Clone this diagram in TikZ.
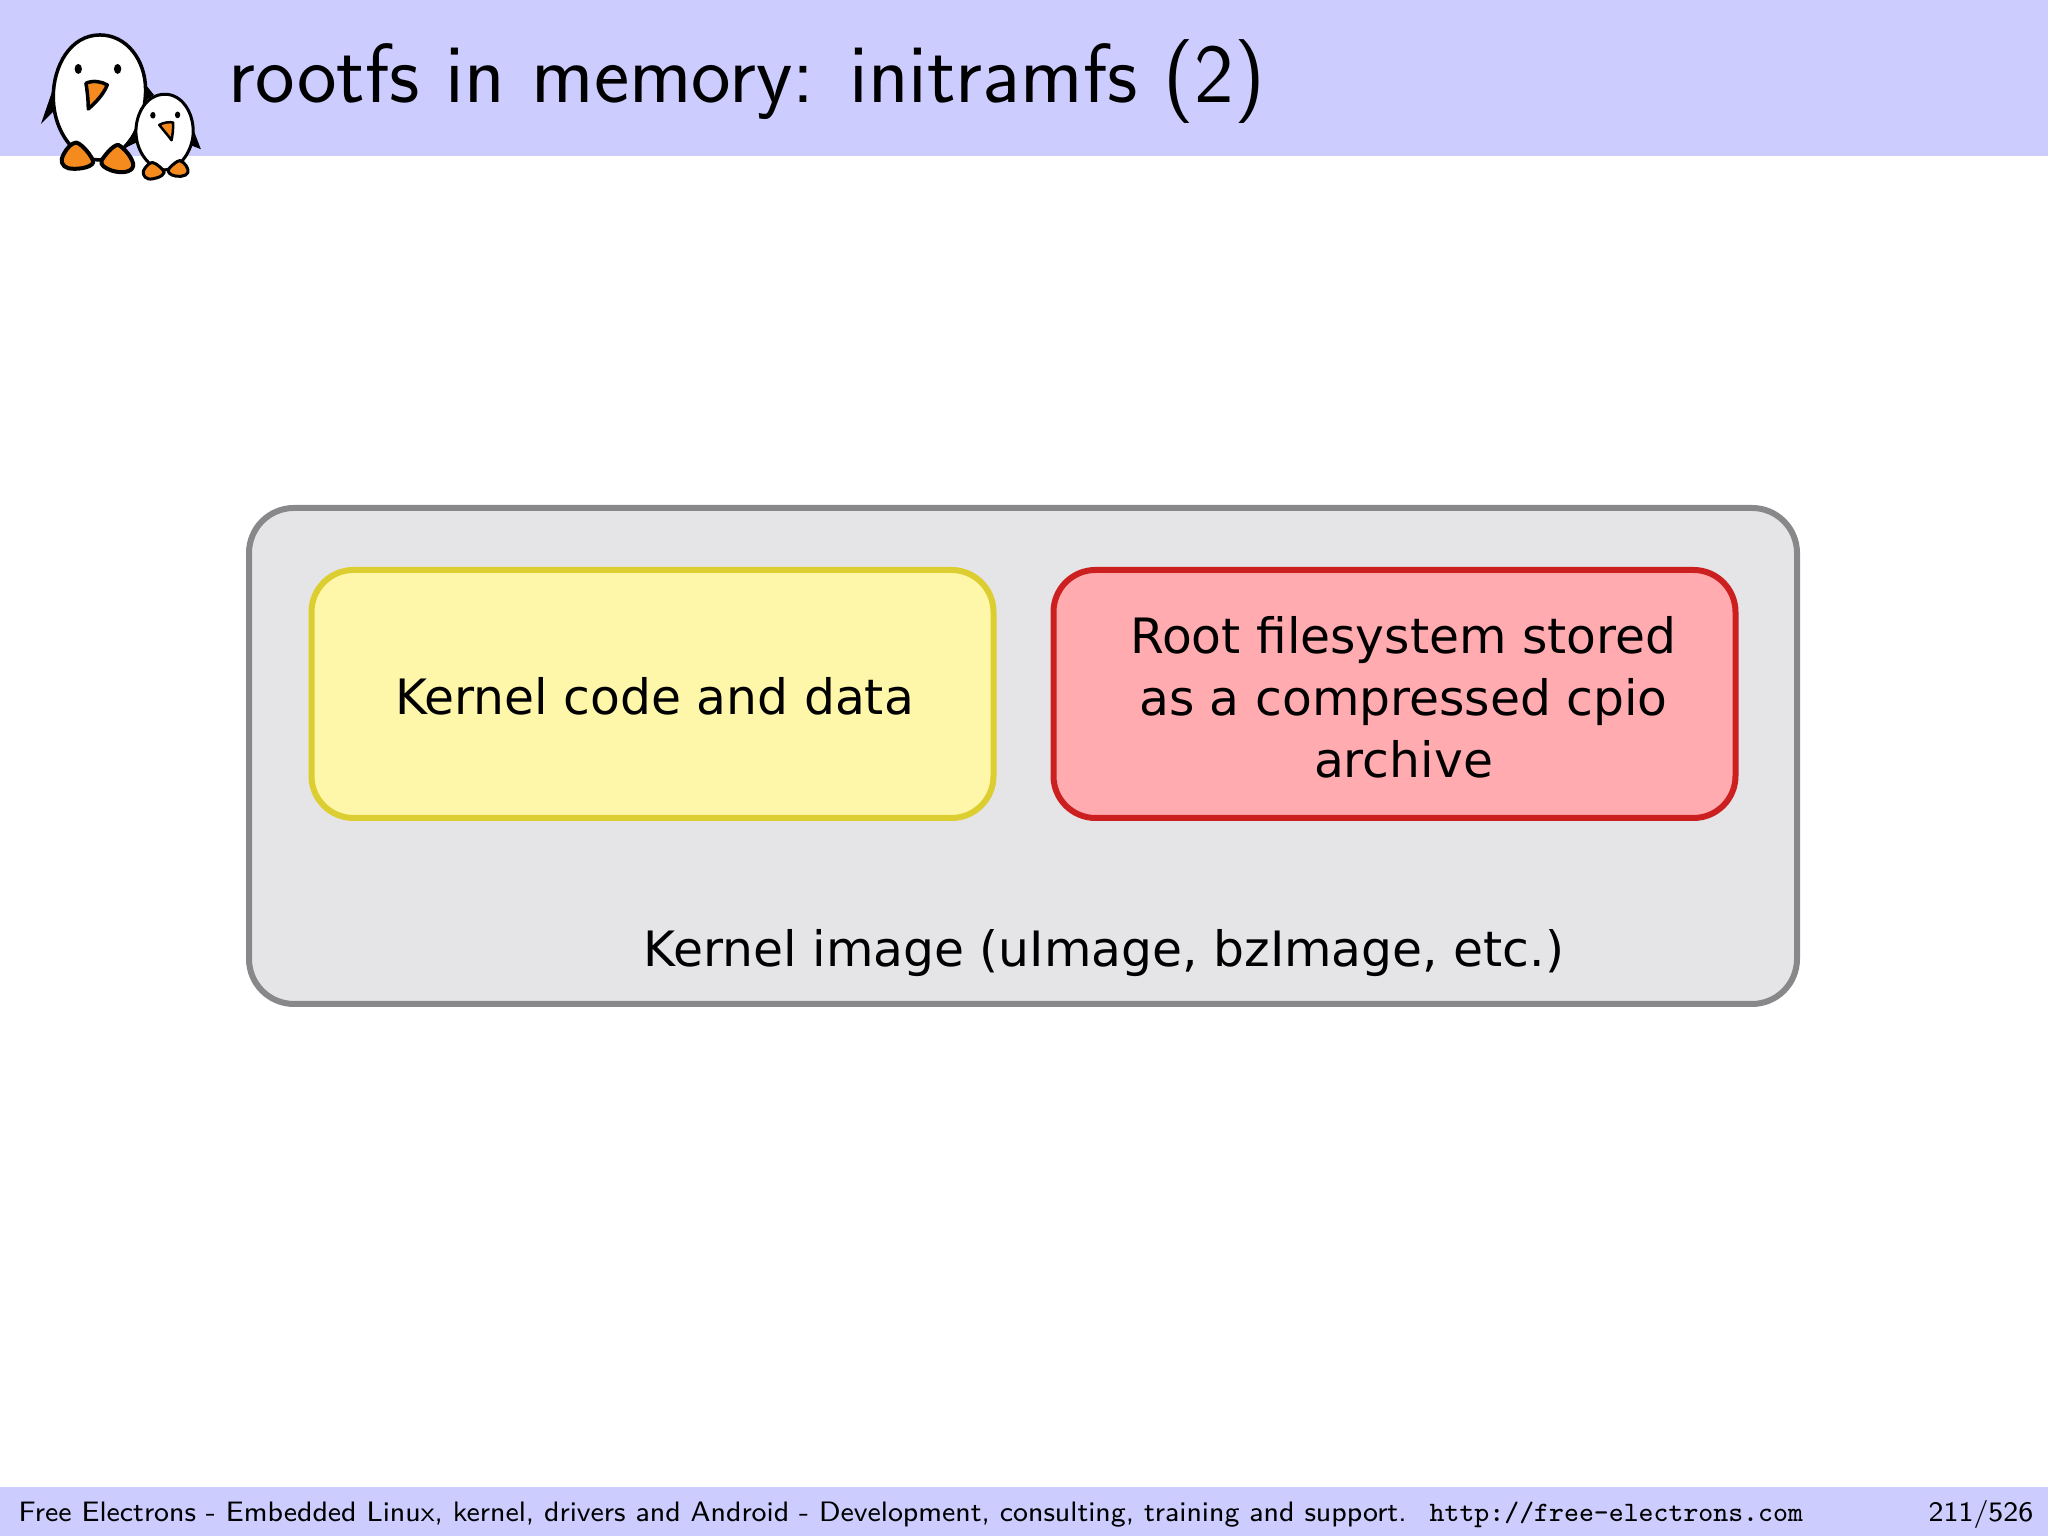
\documentclass[tikz,border=0pt]{standalone}
\usepackage{fontspec}
\newfontfamily\boxfont{DejaVu Sans}
\definecolor{barblue}{HTML}{CCCCFF}
\definecolor{imagefill}{HTML}{E5E4E6}
\definecolor{imageline}{HTML}{888789}
\definecolor{kernelfill}{HTML}{FEF6A8}
\definecolor{kernelline}{HTML}{DCCD30}
\definecolor{rootfill}{HTML}{FFABB0}
\definecolor{rootline}{HTML}{CC2020}
\definecolor{beakorange}{HTML}{F58A1F}
\tikzset{
	box/.style={draw, rounded corners=0.42cm, line width=0.06cm, minimum height=2.48cm, minimum width=6.82cm, inner sep=0pt},
	boxtext/.style={inner sep=0pt, align=center, font=\boxfont\fontsize{13.87}{17.6}\selectfont},
	bartext/.style={inner sep=0pt, anchor=base west, font=\sffamily\fontsize{8}{9}\selectfont},
	peng/.style={draw=black, line width=0.035cm, line join=round},
}
\begin{document}
\begin{tikzpicture}
	\useasboundingbox (0, 0) rectangle (20.48, 15.36);
	%%%%% BARS %%%%%
	\fill[barblue] (0, 13.8) rectangle (20.48, 15.36);
	\fill[barblue] (0, 0) rectangle (20.48, 0.49);
	\node[inner sep=0pt, anchor=base west, font=\sffamily\fontsize{23.9}{28}\selectfont] (title) at (2.28, 14.33) {rootfs in memory: initramfs (2)};
	\node[bartext] (footer) at (0.18, 0.14) {Free Electrons - Embedded Linux, kernel, drivers and Android - Development, consulting, training and support.};
	\node[bartext, font=\ttfamily\fontsize{8}{9}\selectfont] (url) at (14.29, 0.14) {http://free-electrons.com};
	\node[bartext] (page) at (19.28, 0.14) {211/526};

	%%%%% BOXES %%%%%
	\node[box, draw=imageline, fill=imagefill, minimum width=15.48cm, minimum height=4.96cm, rounded corners=0.45cm] (image) at (10.23, 7.8) {};
	\node[box, draw=kernelline, fill=kernelfill] (kernel) at (6.525, 8.42) {};
	\node[box, draw=rootline, fill=rootfill] (rootfs) at (13.945, 8.42) {};
	\node[boxtext] (kerneltext) at (6.545, 8.40) {Kernel code and data};
	\node[boxtext] (roottext) at (14.035, 8.385) {Root filesystem stored\\as a compressed cpio\\archive};
	\node[boxtext] (imagetext) at (11.04, 5.83) {Kernel image (uImage, bzImage, etc.)};

	%%%%% PENGUINS %%%%%
	\begin{scope}[shift={(0, 15.36)}, x=0.01cm/3, y=-0.01cm/3]
		% big one
		\fill[black] (165,250) -- (123,372) -- (170,325) -- cycle;
		\fill[black] (430,245) -- (462,285) -- (425,310) -- cycle;
		\draw[peng, fill=white] (300,105) .. controls (210,105) and (160,200) .. (160,290) .. controls (160,400) and (230,480) .. (295,480) .. controls (370,480) and (437,380) .. (437,270) .. controls (437,180) and (380,105) .. (300,105) -- cycle;
		\fill (235,207) ellipse (11 and 15);
		\fill (353,207) ellipse (11 and 15);
		\draw[peng, fill=beakorange] (258,250) .. controls (280,240) and (305,245) .. (322,255) .. controls (310,285) and (285,310) .. (265,327) .. controls (265,300) and (262,275) .. (258,250) -- cycle;
		\draw[peng, line width=0.04cm, fill=beakorange] (230,428) .. controls (250,435) and (280,475) .. (280,487) .. controls (275,505) and (225,510) .. (205,505) .. controls (185,500) and (180,480) .. (190,465) .. controls (200,445) and (215,428) .. (230,428) -- cycle;
		\draw[peng, line width=0.04cm, fill=beakorange] (355,435) .. controls (375,445) and (402,480) .. (400,498) .. controls (395,520) and (360,520) .. (335,512) .. controls (315,505) and (300,495) .. (305,482) .. controls (315,465) and (340,435) .. (355,435) -- cycle;
		% small one
		\fill[black] (410,375) -- (380,442) -- (415,425) -- cycle;
		\fill[black] (577,380) -- (603,448) -- (570,435) -- cycle;
		\draw[peng, line width=0.03cm, fill=white] (495,283) .. controls (440,283) and (408,340) .. (408,395) .. controls (408,455) and (450,510) .. (495,510) .. controls (540,510) and (580,450) .. (580,395) .. controls (580,335) and (545,283) .. (495,283) -- cycle;
		\fill (459,346) ellipse (8 and 10);
		\fill (533,345) ellipse (8 and 10);
		\draw[peng, line width=0.025cm, fill=beakorange] (478,375) .. controls (490,368) and (510,365) .. (520,368) .. controls (520,390) and (518,405) .. (515,421) .. controls (503,405) and (490,390) .. (478,375) -- cycle;
		\draw[peng, line width=0.03cm, fill=beakorange] (458,488) .. controls (470,490) and (492,510) .. (493,518) .. controls (490,530) and (460,540) .. (445,537) .. controls (430,533) and (425,515) .. (435,505) .. controls (442,495) and (450,488) .. (458,488) -- cycle;
		\draw[peng, line width=0.03cm, fill=beakorange] (540,482) .. controls (555,488) and (567,505) .. (564,518) .. controls (558,532) and (530,532) .. (515,525) .. controls (503,518) and (503,510) .. (510,503) .. controls (520,493) and (530,484) .. (540,482) -- cycle;
	\end{scope}
\end{tikzpicture}
\end{document}
